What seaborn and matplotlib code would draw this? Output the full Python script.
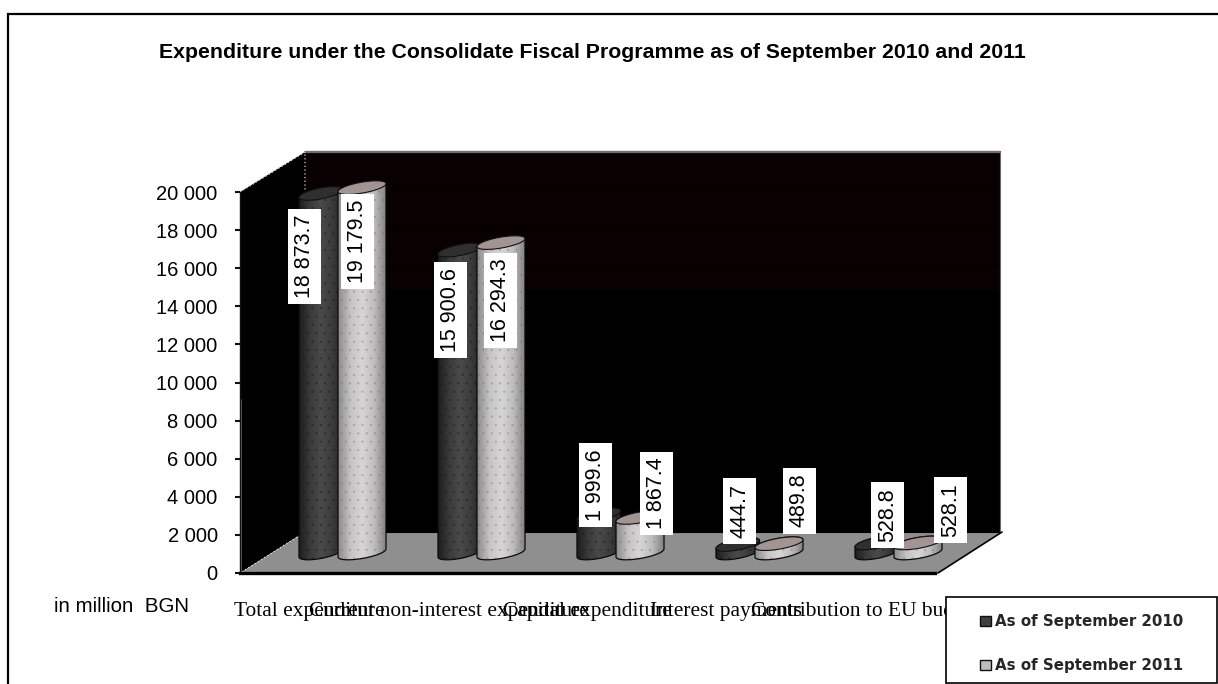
import numpy as np
import pandas as pd
import matplotlib
matplotlib.use("Agg")
import matplotlib.pyplot as plt
import seaborn as sns
from matplotlib.colors import LinearSegmentedColormap
from matplotlib.patches import Polygon, Rectangle

categories = ["Total expenditure", "Current non-interest expenditure",
              "Capital expenditure", "Interest payments",
              "Contribution to EU budget"]
periods = ["As of September 2010", "As of September 2011"]
values_2010 = [18873.7, 15900.6, 1999.6, 444.7, 528.8]
values_2011 = [19179.5, 16294.3, 1867.4, 489.8, 528.1]
y_ticks = list(range(0, 20001, 2000))

# Label nudges in pixels (dx, dy) from the top of each column
offsets_2010 = [(-16, -63), (-9, -60), (-3, 30), (2, 34), (11, 28)]
offsets_2011 = [(-7, -54), (-3, -58), (14, 24), (18, 43), (30, 33)]

W, H = 1218, 684
X0, X1, Y_ZERO, Y_TOP = 240, 935, 573, 192     # front axis box
PLANE_SHIFT_X, PLANE_SHIFT_Y = 33, 20          # columns stand mid-depth on the floor
PX_Y = 20000 / (Y_ZERO - Y_TOP)                # data units per pixel, vertical
PX_X = 1 / 139                                 # category units per pixel, horizontal

df = pd.DataFrame({
    "Category": categories * 2,
    "Period": [periods[0]] * 5 + [periods[1]] * 5,
    "Value": values_2010 + values_2011,
})

sns.set_theme(style="white")
plt.rcParams["hatch.linewidth"] = 0.2
fig = plt.figure(figsize=(W / 100, H / 100), dpi=100, facecolor="white")


def axes_px(x0, x1, ytop, ybot, **kw):
    return fig.add_axes([x0 / W, 1 - ybot / H, (x1 - x0) / W, (ybot - ytop) / H], **kw)


# Page layer in pixel coordinates: outer frame, walls, floor
bg = axes_px(0, W, 0, H, zorder=0)
bg.set_xlim(0, W)
bg.set_ylim(H, 0)
bg.set_axis_off()
px = bg.transData

bg.plot([8, 8, W], [H, 14, 14], color="black", lw=1.6, solid_joinstyle="miter")

bg.add_patch(Polygon([(240, 192), (305, 152), (305, 532), (240, 573)], fc="black", ec="none"))
bg.add_patch(Rectangle((305, 152), 695, 380, fc="black", ec="none"))
bg.add_patch(Rectangle((305, 152), 695, 138, fc="#090101", ec="none"))
for tick in y_ticks:
    y = 532 - (tick / PX_Y)
    bg.plot([305, 1000], [y, y], color="#000000", lw=0.8)
bg.add_patch(Polygon([(240, 573), (305, 532), (1002, 532), (938, 573)], fc="#8f8f8f", ec="none"))
bg.plot([305, 1000], [152, 152], color="#707070", lw=1.6)
bg.plot([1000, 1000], [152, 532], color="#6a6a6a", lw=0.8)
bg.plot([240, 305, 305], [192, 152, 190], color="#d8d8d8", lw=0.9, ls=(0, (1, 2)))
bg.plot([242, 305], [572, 532], color="#e8e8e8", lw=0.9, ls=(0, (1, 2)))
bg.plot([938, 1002], [573, 532], color="black", lw=1.2)
bg.plot([241, 241], [400, 573], color="#666666", lw=1.4)

bg.text(592, 53, "Expenditure under the Consolidate Fiscal Programme as of September 2010 and 2011",
        ha="center", va="center", fontsize=15.3, fontweight="bold", family="Liberation Sans", color="black")
bg.text(121, 607, "in million  BGN", ha="center", va="center", fontsize=14.8,
        family="Liberation Sans", color="black")

# Value axis and category labels along the front edge
base = axes_px(X0, X1, Y_TOP, Y_ZERO, zorder=1)
base.patch.set_alpha(0)
base.set_ylim(0, 20000)
base.set_xlim(-0.5, 4.5)
base.set_yticks(y_ticks)
base.set_yticklabels([f"{t:,}".replace(",", " ") for t in y_ticks],
                     family="Liberation Sans", fontsize=14.5, color="black")
base.set_xticks(range(5))
base.set_xticklabels(categories, family="Liberation Serif", fontsize=15.4, color="black")
base.tick_params(axis="y", length=3.6, width=1.5, color="#111111", pad=12.5, left=True)
base.tick_params(axis="x", length=0, pad=21)
for side in ("top", "right"):
    base.spines[side].set_visible(False)
base.spines["left"].set_color("#111111")
base.spines["left"].set_linewidth(1)
base.spines["bottom"].set_color("black")
base.spines["bottom"].set_linewidth(2.4)

# Columns
ax = axes_px(X0 + PLANE_SHIFT_X, X1 + PLANE_SHIFT_X, Y_TOP - PLANE_SHIFT_Y, Y_ZERO - PLANE_SHIFT_Y, zorder=2)
ax.patch.set_alpha(0)
sns.barplot(data=df, x="Category", y="Value", hue="Period", order=categories, hue_order=periods,
            palette=["#3f3f3f", "#bdbdbd"], width=0.626, ax=ax, saturation=1)
ax.set_xlim(-0.5, 4.5)
ax.set_ylim(0, 20000)
ax.set_axis_off()

shades = [
    LinearSegmentedColormap.from_list("dark", ["#1e1e1e", "#3a3a3a", "#4a4a4a", "#3c3c3c", "#262626"]),
    LinearSegmentedColormap.from_list("light", ["#8c8c8c", "#c4c4c4", "#d6d6d6", "#bcbcbc", "#7e7e7e"]),
]
cap_colours = ["#2f2f2f", "#a39494"]
dot_colours = [(0.08, 0.08, 0.08, 0.55), (0.70, 0.28, 0.50, 0.45)]
label_offsets = [offsets_2010, offsets_2011]
SHEAR, MINOR = 4 * PX_Y, 5.5 * PX_Y
theta = np.linspace(0, 2 * np.pi, 73)

for s, container in enumerate(ax.containers[:2]):
    z = 2 + s
    for c, bar in enumerate(container):
        value = bar.get_height()
        if s == 1:
            bar.set_x(bar.get_x() - 4.5 * PX_X)
            bar.set_width(bar.get_width() + 4.5 * PX_X)
        x0, w = bar.get_x(), bar.get_width()
        a, cx = w / 2, x0 + w / 2

        # Rim of a column end: an ellipse sheared so that it rises to the right
        ex = cx + a * np.cos(theta)
        ey = SHEAR * np.cos(theta) + MINOR * np.sin(theta)
        lower = theta >= np.pi
        order = np.argsort(ex[lower])
        low_x, low_y = ex[lower][order], ey[lower][order]
        upper = theta <= np.pi
        order = np.argsort(-ex[upper])
        up_x, up_y = ex[upper][order], ey[upper][order]

        body_xy = np.vstack([np.column_stack([low_x, low_y]),
                             np.column_stack([up_x, up_y + value])])
        body = Polygon(body_xy, closed=True, fc="none", ec="#0a0a0a", lw=0.9, zorder=z + 0.3, clip_on=False)
        ax.add_patch(body)
        bar.set_zorder(z)
        bar.set_edgecolor("none")
        bar.set_clip_path(body)
        image = ax.imshow(np.linspace(0, 1, 64)[None, :], extent=(x0, x0 + w, -2000, value + 800),
                          aspect="auto", cmap=shades[s], zorder=z + 0.1, interpolation="bilinear")
        image.set_clip_box(fig.bbox)
        image.set_clip_path(body)
        ax.add_patch(Polygon(body_xy, closed=True, fc="none", ec=dot_colours[s], hatch="..",
                             lw=0, zorder=z + 0.2, clip_on=False))
        ax.add_patch(Polygon(np.column_stack([ex, ey + value]), closed=True, fc=cap_colours[s],
                             ec="#111111", lw=0.8, zorder=z + 0.4, clip_on=False))

        text = f"{value:,.1f}".replace(",", " ")
        cx_seaborn = c + (s - 0.5) * 0.313
        ax.annotate(text, xy=(cx_seaborn, value), xytext=label_offsets[s][c], textcoords="offset pixels",
                    rotation=90, ha="center", va="center", fontsize=15.5, family="Liberation Sans",
                    color="black", zorder=20, annotation_clip=False,
                    bbox=dict(boxstyle="square,pad=0.28", fc="white", ec="none"))

ax.set_xlim(-0.5, 4.5)
ax.set_ylim(0, 20000)

# Legend box sits over the end of the category labels
ax.add_patch(Rectangle((945.5, 597), 271.5, 86, transform=px, fc="white", ec="black", lw=1.2,
                       zorder=30, clip_on=False))
sns.move_legend(ax, "upper left", bbox_to_anchor=(968 / W, 1 - 602 / H), bbox_transform=fig.transFigure,
                title=None, frameon=False, handlelength=0.7, handleheight=0.7,
                handletextpad=0.3, labelspacing=1.95, borderpad=0.3,
                prop=dict(family="DejaVu Sans", size=10.8, weight="bold"))
legend = ax.get_legend()
legend.set_zorder(31)
for handle in legend.legend_handles:
    handle.set_edgecolor("#111111")
    handle.set_linewidth(1)

fig.savefig("out.png", dpi=100, facecolor="white")
